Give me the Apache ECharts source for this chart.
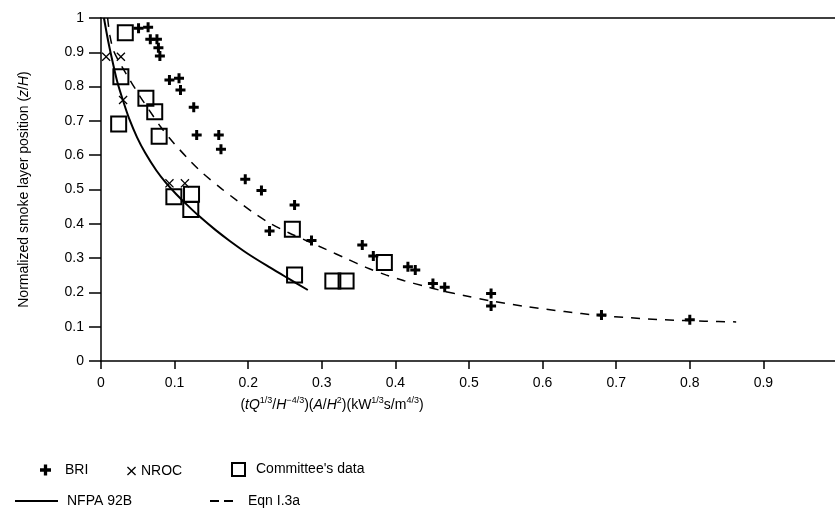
<!DOCTYPE html>
<html>
<head>
<meta charset="utf-8">
<script src="https://cdn.jsdelivr.net/npm/echarts@6/dist/echarts.min.js"></script>
<style>html,body{margin:0;padding:0;background:#fff}#c{width:835px;height:510px}</style>
</head>
<body>
<div id="c"></div>
<script>
var xTicks = [0, 0.1, 0.2, 0.3, 0.4, 0.5, 0.6, 0.7, 0.8, 0.9];
var yTicks = [0, 0.1, 0.2, 0.3, 0.4, 0.5, 0.6, 0.7, 0.8, 0.9, 1];

var briData = [
  [0.051,0.970],[0.064,0.973],[0.067,0.938],[0.076,0.938],[0.078,0.913],[0.080,0.889],
  [0.093,0.819],[0.106,0.824],[0.108,0.790],[0.126,0.740],[0.130,0.659],[0.160,0.659],[0.163,0.617],
  [0.196,0.530],[0.218,0.497],[0.263,0.455],[0.229,0.379],[0.286,0.351],[0.355,0.338],[0.370,0.306],
  [0.417,0.275],[0.427,0.265],[0.451,0.226],[0.467,0.215],[0.530,0.197],[0.530,0.160],[0.680,0.134],[0.800,0.120]
];
var nrocData = [[0.007,0.887],[0.027,0.887],[0.030,0.761],[0.093,0.518],[0.114,0.518]];
var committeeData = [
  [0.033,0.957],[0.027,0.829],[0.061,0.766],[0.073,0.727],[0.024,0.691],[0.079,0.655],
  [0.099,0.479],[0.123,0.486],[0.122,0.442],[0.260,0.384],[0.263,0.251],[0.315,0.233],[0.333,0.233],[0.385,0.287]
];
var nfpaData = [
  [0.004,1.000],[0.010,0.930],[0.016,0.870],[0.022,0.815],[0.031,0.752],[0.038,0.708],[0.049,0.652],
  [0.060,0.607],[0.075,0.556],[0.088,0.520],[0.102,0.487],[0.118,0.453],[0.134,0.421],[0.155,0.383],
  [0.175,0.350],[0.200,0.312],[0.230,0.272],[0.255,0.240],[0.281,0.207]
];
var eqnData = [
  [0.009,1.000],[0.012,0.950],[0.017,0.905],[0.024,0.875],[0.032,0.845],[0.039,0.820],[0.047,0.792],
  [0.054,0.768],[0.065,0.733],[0.081,0.683],[0.099,0.635],[0.120,0.586],[0.138,0.548],[0.164,0.502],
  [0.184,0.469],[0.206,0.434],[0.230,0.401],[0.255,0.374],[0.280,0.350],[0.305,0.326],[0.334,0.298],
  [0.360,0.273],[0.387,0.251],[0.412,0.234],[0.438,0.219],[0.465,0.204],[0.493,0.191],[0.528,0.176],
  [0.577,0.159],[0.630,0.144],[0.676,0.133],[0.720,0.126],[0.766,0.120],[0.820,0.116],[0.863,0.114]
];

var FONT = 'Liberation Sans';
var plusPath = 'path://M3.5,0H6.5V3.5H10V6.5H6.5V10H3.5V6.5H0V3.5H3.5Z';
var crossPath = 'path://M0,1L1,0L5,4L9,0L10,1L6,5L10,9L9,10L5,6L1,10L0,9L4,5Z';
var dashIcon = 'path://M0,0H9V2H0ZM14,0H23V2H14Z';

function leg(item, left, top, w, h, pad) {
  return {
    data: [item], left: left, top: top, itemWidth: w, itemHeight: h, itemGap: 0, padding: 0,
    selectedMode: false,
    textStyle: { fontFamily: FONT, fontSize: 14, color: '#000', padding: [0, 0, 0, pad] }
  };
}

var chart = echarts.init(document.getElementById('c'), null, { renderer: 'canvas' });
chart.setOption({
  animation: false,
  backgroundColor: '#fff',
  grid: { left: 101, right: -2, top: 18, bottom: 149, containLabel: false, outerBoundsMode: 'none' },
  legend: [
    leg('BRI', 40, 463, 11, 11, 9),
    leg('NROC', 127, 464, 9, 9, 0),
    leg("Committee's data", 231, 462, 13, 13, 6),
    leg({ name: 'NFPA 92B', icon: 'rect' }, 15, 494, 43, 2, 4),
    leg({ name: 'Eqn I.3a', icon: dashIcon }, 210, 494, 23, 2, 10)
  ],
  xAxis: [{
    type: 'value', min: 0, max: 1, interval: 0.1,
    axisLine: { show: true, onZero: false, lineStyle: { color: '#000', width: 1.5 } },
    axisTick: { show: true, length: 8, lineStyle: { color: '#000', width: 1.5 } },
    axisLabel: { fontFamily: FONT, fontSize: 14, color: '#000', margin: 15,
      formatter: function (v) { var r = Math.round(v * 10) / 10; return xTicks.indexOf(r) >= 0 ? String(r) : ''; } },
    splitLine: { show: false },
    name: '({i|tQ}{s|1/3}/{i|H}{s|\u22124/3})({i|A}/{i|H}{s|2})(kW{s|1/3}s/m{s|4/3})',
    nameLocation: 'middle', nameGap: 35,
    nameTextStyle: {
      fontFamily: FONT, fontSize: 14, color: '#000', lineHeight: 18, padding: [0, 274, 0, 0],
      rich: {
        i: { fontFamily: FONT, fontSize: 14, fontStyle: 'italic', color: '#000', lineHeight: 18 },
        s: { fontFamily: FONT, fontSize: 9, color: '#000', lineHeight: 10, verticalAlign: 'top' }
      }
    }
  }, {
    type: 'value', min: 0, max: 1, position: 'top',
    axisLine: { show: true, onZero: false, lineStyle: { color: '#000', width: 1.5 } },
    axisTick: { show: false }, axisLabel: { show: false }, splitLine: { show: false }
  }],
  yAxis: {
    type: 'value', min: 0, max: 1, interval: 0.1,
    axisLine: { show: true, onZero: false, lineStyle: { color: '#000', width: 1.5 } },
    axisTick: { show: true, length: 12, lineStyle: { color: '#000', width: 1.5 } },
    axisLabel: { fontFamily: FONT, fontSize: 14, color: '#000', margin: 17,
      formatter: function (v) { var r = Math.round(v * 10) / 10; return yTicks.indexOf(r) >= 0 ? String(r) : ''; } },
    splitLine: { show: false },
    name: 'Normalized smoke layer position ({i|z}/{i|H})',
    nameLocation: 'middle', nameGap: 70,
    nameTextStyle: {
      fontFamily: FONT, fontSize: 14, color: '#000',
      rich: { i: { fontFamily: FONT, fontSize: 14, fontStyle: 'italic', color: '#000' } }
    }
  },
  series: [
    { name: 'NFPA 92B', type: 'line', data: nfpaData, smooth: 0.3,
      symbol: 'none', lineStyle: { color: '#000', width: 2 }, itemStyle: { color: '#000' }, z: 2 },
    { name: 'Eqn I.3a', type: 'line', data: eqnData, smooth: 0.3,
      symbol: 'none', lineStyle: { color: '#000', width: 1.5, type: [9, 8] }, itemStyle: { color: '#000' }, z: 2 },
    { name: 'BRI', type: 'scatter', data: briData, symbol: plusPath, symbolSize: 10,
      itemStyle: { color: '#000', opacity: 1 }, z: 3 },
    { name: 'NROC', type: 'scatter', data: nrocData, symbol: crossPath, symbolSize: 9,
      itemStyle: { color: '#000', opacity: 1 }, z: 3 },
    { name: "Committee's data", type: 'scatter', data: committeeData, symbol: 'rect', symbolSize: 15,
      itemStyle: { color: 'rgba(0,0,0,0)', borderColor: '#000', borderWidth: 2, opacity: 1 }, z: 3 }
  ]
});
</script>
</body>
</html>
